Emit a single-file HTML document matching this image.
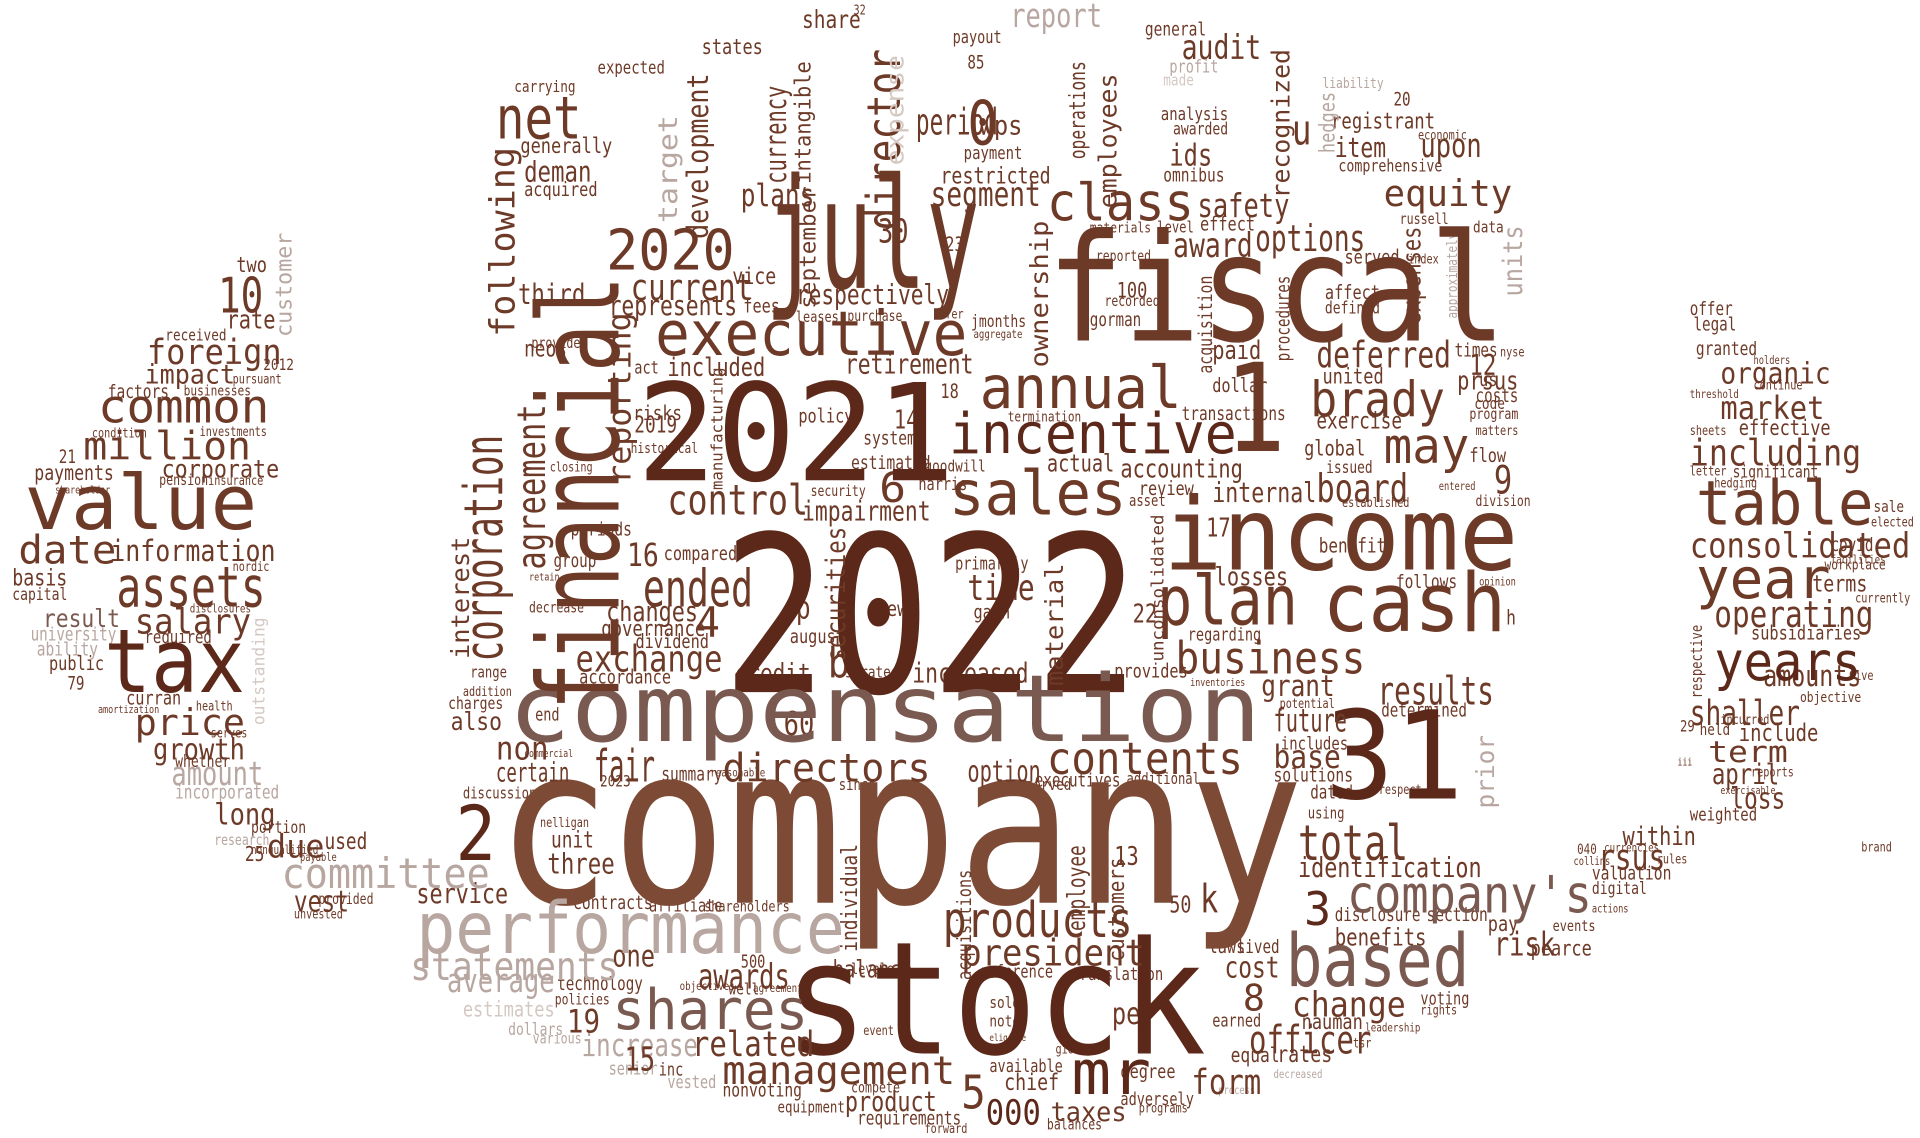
<!DOCTYPE html>
<html><head><meta charset="utf-8"><style>
html,body{margin:0;padding:0;background:#fff;}
svg{display:block;}
text{font-family:"DejaVu Sans Mono","Liberation Mono",monospace;}
</style></head><body>
<svg id="cloud" width="1920" height="1138" viewBox="0 0 1568 929" preserveAspectRatio="none" xmlns="http://www.w3.org/2000/svg"></svg>
<script>
const palette = ["#5c2819","#6e3a28","#7d4a36","#7a5a50","#b8a6a0","#d4c8c3"];
// major words: text, x, baselineY, fontSize, length, shade, rotated
const majorWords = [
["company",405,737,180,660,2,0],["2022",590,565,178,340,0,0],["stock",640,860,128,345,0,0],["fiscal",855,278,122,375,1,0],["july",625,235,125,175,1,0],["31",1082,652,100,113,0,0],["income",950,465,82,290,1,0],["cash",1080,515,66,150,1,0],["plan",945,510,56,115,1,0],["based",1050,805,60,150,3,0],["performance",340,778,58,350,4,0],["compensation",415,605,76,615,3,0],["2021",520,392,110,260,0,0],["financial",505,580,92,355,1,1],["executive",535,290,50,255,1,0],["incentive",775,370,46,235,0,0],["1",1000,368,100,50,1,0],["annual",800,333,48,165,1,0],["sales",775,420,50,145,1,0],["class",855,180,42,120,1,0],["value",20,432,62,190,1,0],["tax",85,565,72,115,0,0],["assets",95,495,46,122,1,0],["common",80,345,38,140,1,0],["million",68,375,32,137,1,0],["table",1385,428,50,145,1,0],["year",1385,488,46,110,1,0],["years",1400,555,44,120,0,0],["consolidated",1380,455,28,180,1,0],["operating",1400,512,30,130,1,0],["including",1380,380,30,140,1,0],["market",1405,342,26,85,1,0],["organic",1405,313,24,90,1,0],["shaller",1380,592,28,90,1,0],["term",1395,622,24,65,1,0],["business",960,550,36,155,1,0],["brady",1070,340,40,110,1,0],["may",1130,378,40,70,1,0],["equity",1130,168,30,105,1,0],["options",1025,205,30,90,1,0],["deferred",1075,300,30,110,1,0],["total",1060,702,40,90,1,0],["company's",1100,745,42,200,3,0],["3",1065,755,38,22,0,0],["products",770,765,40,155,1,0],["president",785,788,30,150,1,0],["shares",500,840,46,160,3,0],["statements",335,800,32,170,4,0],["committee",230,725,34,170,4,0],["management",590,885,32,190,1,0],["directors",590,638,32,170,1,0],["contents",855,632,36,160,1,0],["fair",485,638,36,50,1,0],["option",790,638,24,60,1,0],["base",1040,627,26,55,1,0],["future",1040,597,26,60,1,0],["results",1125,575,32,95,1,0],["grant",1030,568,24,60,1,0],["ended",525,495,42,90,1,0],["exchange",470,548,30,120,1,0],["4",568,520,34,20,1,0],["16",512,462,26,26,1,0],["control",545,420,34,115,1,0],["net",405,113,48,70,1,0],["2020",495,220,46,105,1,0],["current",515,245,30,100,1,0],["period",748,110,30,67,1,0],["mr",875,893,50,65,0,0],["5",785,905,38,20,1,0],["000",805,918,28,45,0,0],["2",372,702,62,33,0,0],["8",1015,825,30,18,1,0],["change",1055,830,28,93,1,0],["officer",1020,860,32,100,1,0],["form",973,893,28,57,1,0],["taxes",858,915,22,62,1,0],["awards",570,807,28,75,1,0],["19",463,843,26,27,1,0],["related",565,862,28,100,1,0],["price",110,600,30,90,1,0],["growth",125,620,24,75,1,0],["date",15,460,32,80,1,0],["information",90,458,24,135,1,0],["salary",110,517,28,95,1,0],["result",35,512,20,63,3,0],["foreign",120,297,28,110,1,0],["10",178,255,40,37,1,0],["impact",118,313,22,74,1,0],["corporate",132,390,20,96,1,0],["long",175,673,24,50,1,0],["due",218,700,26,47,1,0],["certain",405,638,22,60,1,0],["non",405,620,26,43,1,0],["also",368,596,20,42,1,0],
["corporation",410,540,44,185,1,1],["agreement",445,465,32,135,1,1],["following",420,275,28,155,1,1],["reporting",515,395,26,140,1,1],["development",578,195,24,135,1,1],["director",735,188,38,148,1,1],["currency",642,150,24,80,1,1],["target",553,182,22,88,4,1],["employees",912,170,20,110,1,1],["units",1243,242,22,58,4,1],["customer",238,275,18,85,4,1],["outstanding",216,592,14,88,5,1],["securities",690,540,22,110,1,1],["ownership",856,300,20,120,1,1],["material",868,560,20,100,1,1],["interest",383,538,20,100,1,1],["employee",886,760,20,70,1,1],["customers",918,785,18,85,1,1],["individual",700,777,18,88,1,1],["acquisitions",793,800,16,90,1,1],["prior",1220,660,20,60,4,1],["recognized",1053,162,20,122,1,1],["expense",738,135,20,90,5,1],["0",790,118,50,25,1,0],["wps",800,110,22,35,1,0],["operations",886,130,18,80,1,1],["intangible",662,150,18,100,1,1],["september",666,252,18,100,1,1],["unconsolidated",950,540,14,120,1,1],["manufacturing",590,400,13,100,1,1]
];
// small words: text, x, baselineY, length, shade, rotated (font size derived from length)
const smallWords = [
["report",825,22,75,4,0],["share",655,23,48,1,0],["32",697,12,10,1,0],["states",573,44,50,1,0],["expected",488,60,55,1,0],["carrying",420,75,50,1,0],["general",935,29,50,1,0],["profit",955,59,40,4,0],["made",950,70,25,5,0],["payout",778,35,40,1,0],["85",790,56,14,1,0],["analysis",948,98,55,1,0],["awarded",958,110,45,1,0],["omnibus",950,148,50,1,0],["payment",787,130,48,1,0],["registrant",1087,105,85,1,0],["economic",1158,114,40,1,0],["comprehensive",1093,140,85,1,0],["item",1090,128,42,1,0],["upon",1160,128,50,1,0],["20",1138,86,14,1,0],["liability",1080,72,50,4,0],["generally",425,125,75,1,0],["deman",428,148,55,1,0],["acquired",428,160,60,1,0],["audit",965,48,65,1,0],["ids",955,135,35,1,0],["u",1055,118,16,1,0],["restricted",768,150,90,1,0],["segment",760,168,90,1,0],["safety",978,177,75,1,0],["award",958,210,65,1,0],
["two",193,222,25,1,0],["rate",185,268,40,1,0],["received",135,278,50,1,0],["2012",215,302,25,1,0],["businesses",150,323,55,1,0],["factors",88,325,50,1,0],["pursuant",190,313,40,1,0],["condition",75,357,45,1,0],["investments",163,356,55,1,0],["21",48,378,14,1,0],["payments",28,392,65,1,0],["pension",130,396,40,1,0],["insurance",170,396,45,1,0],["shareholder",45,403,45,1,0],["nordic",190,466,30,1,0],["basis",10,478,45,1,0],["capital",10,490,45,1,0],["disclosures",155,500,50,1,0],["university",25,523,70,4,0],["ability",30,535,50,4,0],["public",40,547,45,1,0],["required",118,525,55,1,0],["79",55,563,14,1,0],["curran",103,575,45,1,0],["amortization",80,582,50,1,0],["health",160,580,30,1,0],["serves",172,602,30,1,0],["whether",143,626,45,1,0],["amount",140,641,75,4,0],["incorporated",143,652,85,4,0],["research",175,690,45,4,0],["portion",205,680,45,1,0],["nonqualified",205,697,55,1,0],["25",200,703,16,1,0],["payable",245,703,30,1,0],["used",265,693,35,1,0],["provided",260,738,45,1,0],["unvested",240,750,40,1,0],["service",340,737,75,1,0],["vest",240,744,45,1,0],
["average",365,810,88,4,0],["estimates",378,830,75,5,0],["technology",455,808,70,1,0],["policies",453,820,45,1,0],["dollars",415,845,45,4,0],["various",435,852,40,4,0],["increase",475,862,95,4,0],["senior",497,877,40,4,0],["15",510,874,25,1,0],["inc",538,878,20,1,0],["vested",545,888,40,4,0],["nonvoting",590,895,65,1,0],["equipment",635,908,55,1,0],["compete",695,892,40,1,0],["requirements",700,918,85,1,0],["product",690,907,75,1,0],["forward",755,925,35,1,0],["chief",820,890,45,1,0],["balances",855,922,45,1,0],["adversely",915,902,60,1,0],["degree",915,880,45,1,0],["programs",930,908,40,1,0],["process",995,893,30,4,0],["equal",1005,867,40,1,0],["decreased",1040,880,40,4,0],["rates",1043,867,45,1,0],["nauman",1063,840,50,1,0],["tsr",1105,855,15,1,0],["leadership",1115,842,45,1,0],["voting",1160,820,40,1,0],["rights",1160,828,30,1,0],["disclosure",1090,752,70,1,0],["section",1165,752,50,1,0],["pay",1215,760,25,1,0],["pearce",1250,780,50,1,0],["events",1268,760,35,1,0],["actions",1300,745,30,1,0],["digital",1300,730,45,1,0],["valuation",1300,718,65,1,0],["collins",1285,706,30,1,0],["040",1288,697,16,1,0],["currencies",1310,695,45,1,0],["rules",1353,705,25,1,0],["within",1325,690,60,1,0],["rsus",1305,710,55,1,0],
["loss",1413,660,45,1,0],["weighted",1380,670,55,1,0],["april",1398,640,55,1,0],["include",1420,605,65,1,0],["amounts",1440,560,80,1,0],["objective",1470,573,50,1,0],["five",1510,555,20,1,0],["subsidiaries",1430,522,90,1,0],["terms",1480,483,45,1,0],["workplace",1490,465,50,1,0],["covid",1495,450,35,1,0],["facilities",1495,460,45,1,0],["significant",1415,390,70,1,0],["effective",1420,355,75,1,0],["sheets",1380,355,30,1,0],["letter",1380,388,30,1,0],["hedging",1400,398,35,1,0],["sale",1530,418,25,1,0],["elected",1528,430,35,1,0],["currently",1515,492,45,1,0],["offer",1380,257,35,1,0],["legal",1383,270,35,1,0],["granted",1385,290,50,1,0],["holders",1432,297,30,1,0],["continue",1432,318,40,1,0],["threshold",1380,325,40,1,0],["held",1388,600,25,1,0],["29",1372,597,12,1,0],["incurred",1405,591,40,1,0],["exercisable",1405,648,45,1,0],["reports",1430,634,35,1,0],["iii",1370,625,12,1,0],["brand",1520,695,25,1,0],["respective",1390,570,60,1,1],
["times",1188,291,35,1,0],["12",1200,306,22,1,0],["prsus",1190,318,50,1,0],["costs",1205,328,35,1,0],["program",1200,342,40,1,0],["matters",1205,355,35,1,0],["flow",1200,377,30,1,0],["9",1220,403,15,1,0],["entered",1175,400,30,1,0],["us",1208,315,15,1,0],["division",1205,413,45,1,0],["opinion",1208,478,30,1,0],["h",1230,510,8,1,0],["code",1204,334,25,1,0],["nyse",1225,291,20,1,0],
["united",1080,313,50,1,0],["global",1065,372,50,1,0],["issued",1083,386,38,1,0],["established",1096,414,55,1,0],["internal",990,410,85,1,0],["accounting",915,390,100,1,0],["review",930,404,45,1,0],["asset",922,413,30,1,0],["17",985,438,20,1,0],["losses",992,478,60,1,0],["benefit",1077,451,55,1,0],["follows",1140,480,50,1,0],["regarding",970,523,60,1,0],["provides",910,553,60,1,0],["inventories",972,560,45,1,0],["potential",1045,578,45,1,0],["determined",1128,585,70,1,0],["solutions",1040,638,65,1,0],["includes",1046,612,55,1,0],["identification",1060,716,150,1,0],["dated",1070,652,35,1,0],["using",1068,668,30,1,0],["respect",1126,648,35,1,0],["benefits",1090,772,75,1,0],["risk",1220,780,50,1,0],["laws",987,778,30,1,0],["lived",1010,778,35,1,0],["cost",1000,798,45,1,0],["earned",990,838,40,1,0],["per",908,836,35,1,0],["translation",875,800,75,1,0],["reference",800,798,60,1,0],["sold",808,823,25,1,0],["note",808,838,25,1,0],["eligible",808,850,30,1,0],["available",808,875,60,1,0],["gioia",862,860,25,1,0],["22",925,508,20,1,0],["13",910,706,20,1,0],["k",980,745,15,1,0],["50",955,745,18,1,0],
["third",423,248,55,1,0],["plans",605,168,60,1,0],["included",545,307,80,1,0],["act",518,305,20,1,0],["neos",428,291,35,1,0],["provide",434,284,40,1,0],["risks",517,343,40,1,0],["2019",518,353,35,1,0],["historical",515,370,55,1,0],["closing",449,385,35,1,0],["periods",466,437,50,1,0],["group",452,463,35,1,0],["retain",432,474,25,1,0],["decrease",432,500,45,1,0],["compared",542,457,60,1,0],["changes",495,507,75,1,0],["governance",491,519,85,1,0],["dividend",519,529,60,1,0],["accordance",473,558,75,1,0],["range",384,553,30,1,0],["addition",378,568,40,1,0],["charges",366,579,45,1,0],["end",437,588,20,1,0],["commercial",428,618,40,1,0],["discussion",378,652,60,1,0],["2023",490,642,25,1,0],["summary",540,637,50,1,0],["reasonable",580,634,45,1,0],["since",685,645,30,1,0],["reserved",825,645,50,1,0],["executives",845,642,70,1,0],["additional",920,640,60,1,0],["unit",450,692,35,1,0],["three",447,713,55,1,0],["nelligan",441,675,40,1,0],["contracts",468,742,65,1,0],["affiliate",530,744,60,1,0],["shareholders",575,744,70,1,0],["one",500,789,35,1,0],["well",595,812,25,1,0],["agreements",615,810,45,1,0],["500",605,790,20,1,0],["objectives",555,808,45,1,0],["levels",695,795,35,1,0],["balance",680,798,65,1,0],["event",705,845,25,1,0],["60",640,600,25,1,0],
["credit",600,557,62,1,0],["b",676,553,18,1,0],["strategy",690,553,50,1,0],["increased",745,557,95,1,0],["time",790,490,55,1,0],["gain",795,505,30,1,0],["new",716,503,25,1,0],["august",645,525,45,1,0],["p",650,505,12,1,0],["security",662,405,45,1,0],["harris",750,400,40,1,0],["impairment",655,425,105,1,0],["goodwill",755,385,50,1,0],["primarily",780,465,60,1,0],["actual",855,385,55,1,0],["termination",823,344,60,1,0],["estimated",695,383,65,1,0],["systems",705,363,50,1,0],["14",730,350,20,1,0],["18",768,325,15,1,0],["policy",652,345,45,1,0],["retirement",690,305,105,1,0],["respectively",650,248,125,1,0],["leases",650,263,35,1,0],["purchase",692,262,45,1,0],["jmonths",793,267,45,1,0],["aggregate",795,276,40,1,0],["30",717,198,25,1,0],["vice",598,232,36,1,0],["fees",607,255,30,1,0],["23",772,205,15,1,0],["refer",762,260,25,1,0],["100",912,243,25,1,0],["recorded",902,250,45,1,0],["gorman",890,266,42,1,0],["reported",895,213,45,1,0],["materials",890,190,50,1,0],["level",945,190,30,1,0],["effect",980,188,45,1,0],["served",1098,215,45,1,0],["affect",1082,244,45,1,0],["defined",1082,256,45,1,0],["data",1203,190,25,1,0],["russell",1143,183,40,1,0],["index",1150,215,25,1,0],["paid",990,293,40,1,0],["dollar",990,320,45,1,0],["transactions",965,343,85,1,0],["exercise",1075,350,70,1,0],["board",1075,410,75,1,0],["represents",497,257,105,1,0],["6",718,410,22,1,0],["expenses",1160,265,80,1,1],["acquisition",990,305,80,1,1],["procedures",1053,295,70,1,1],["hedges",1090,125,50,4,1],["approximately",1190,260,70,4,1]
];
const svg = document.getElementById('cloud');
const NS = 'http://www.w3.org/2000/svg';
function addWord(label, x, y, fs, len, shade, rot) {
  const t = document.createElementNS(NS, 'text');
  t.textContent = label;
  
  
  t.setAttribute('font-size', fs.toFixed(1));
  t.setAttribute('fill', palette[shade]);
  t.setAttribute('textLength', len);
  t.setAttribute('lengthAdjust', 'spacingAndGlyphs');
  if (rot) {
    t.setAttribute('transform', 'translate(' + x + ',' + y + ') rotate(-90)');
  } else {
    t.setAttribute('x', x);
    t.setAttribute('y', y);
  }
  svg.appendChild(t);
}
for (const w of smallWords) {
  const fs = Math.min(34, w[3] / (w[0].length * 0.47));
  addWord(w[0], w[1], w[2], fs, w[3], w[4], w[5]);
}
for (const w of majorWords) {
  addWord(w[0], w[1], w[2], w[3], w[4], w[5], w[6]);
}
</script>
</body></html>
